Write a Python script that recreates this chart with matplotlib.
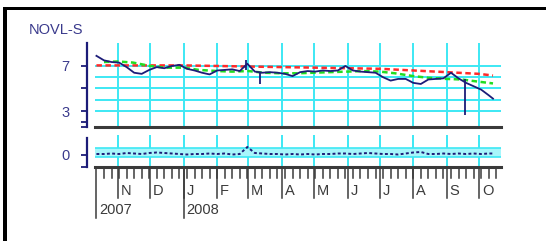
import matplotlib
matplotlib.use('Agg')
import matplotlib.pyplot as plt
import matplotlib.dates as mdates
from matplotlib.patches import Rectangle
import datetime as dt

# ---------------- data ----------------
ticker = "NOVL-S"

price_dates = ['2007-10-12', '2007-10-19', '2007-10-26', '2007-11-02', '2007-11-09', '2007-11-16',
               '2007-11-23', '2007-11-30', '2007-12-07', '2007-12-14', '2007-12-21', '2007-12-28',
               '2008-01-04', '2008-01-11', '2008-01-18', '2008-01-25', '2008-02-01', '2008-02-08',
               '2008-02-15', '2008-02-22', '2008-02-29', '2008-03-07', '2008-03-14', '2008-03-21',
               '2008-03-28', '2008-04-04', '2008-04-11', '2008-04-18', '2008-04-25', '2008-05-02',
               '2008-05-09', '2008-05-16', '2008-05-23', '2008-05-30', '2008-06-06', '2008-06-13',
               '2008-06-20', '2008-06-27', '2008-07-04', '2008-07-11', '2008-07-18', '2008-07-25',
               '2008-08-01', '2008-08-08', '2008-08-15', '2008-08-22', '2008-08-29', '2008-09-05',
               '2008-09-12', '2008-09-19', '2008-09-26', '2008-10-03', '2008-10-10', '2008-10-14']
price_close = [7.9, 7.5, 7.35, 7.3, 6.9, 6.4,
               6.3, 6.65, 6.9, 6.8, 7.0, 7.1,
               6.75, 6.6, 6.4, 6.25, 6.6, 6.65,
               6.7, 6.55, 7.2, 6.5, 6.4, 6.45,
               6.4, 6.3, 6.1, 6.45, 6.55, 6.5,
               6.6, 6.55, 6.6, 7.0, 6.6, 6.5,
               6.45, 6.4, 6.0, 5.7, 5.85, 5.85,
               5.5, 5.4, 5.8, 5.85, 5.9, 6.4,
               5.9, 5.5, 5.2, 4.9, 4.4, 4.1]

spike_dates = ['2008-02-28', '2008-03-12', '2008-09-18']
spike_high = [7.5, 6.5, 5.8]
spike_low = [6.6, 5.37, 2.65]

slow_ma_dates = ['2007-10-12', '2007-11-01', '2007-12-01', '2008-01-01', '2008-02-01', '2008-03-01',
                 '2008-04-01', '2008-05-01', '2008-06-01', '2008-07-01', '2008-08-01', '2008-09-01',
                 '2008-10-01', '2008-10-14']
slow_ma = [7.05, 7.05, 7.05, 7.05, 7.0, 6.95, 6.9, 6.85, 6.8, 6.75, 6.6, 6.45, 6.3, 6.15]

fast_ma_dates = ['2007-10-19', '2007-11-01', '2007-11-15', '2007-12-01', '2007-12-15', '2008-01-01',
                 '2008-01-15', '2008-02-01', '2008-02-15', '2008-03-01', '2008-03-15', '2008-04-01',
                 '2008-04-15', '2008-05-01', '2008-05-15', '2008-06-01', '2008-06-15', '2008-07-01',
                 '2008-07-15', '2008-08-01', '2008-08-15', '2008-09-01', '2008-09-15', '2008-10-01',
                 '2008-10-14']
fast_ma = [7.35, 7.4, 7.3, 7.0, 6.85, 6.85, 6.65, 6.55, 6.5, 6.55, 6.4, 6.35,
           6.35, 6.4, 6.45, 6.5, 6.55, 6.5, 6.35, 6.1, 5.95, 5.85, 5.8, 5.6, 5.45]

osc_values = [0.1, 0.1, 0.15, 0.1, 0.2, 0.15, 0.1, 0.2, 0.25, 0.2, 0.15, 0.1,
              0.05, 0.1, 0.1, 0.15, 0.1, 0.15, 0.05, 0.1, 0.8, 0.2, 0.15, 0.1,
              0.1, 0.05, 0.1, 0.05, 0.1, 0.05, 0.1, 0.1, 0.15, 0.15, 0.1, 0.15,
              0.2, 0.15, 0.1, 0.1, 0.05, 0.15, 0.25, 0.3, 0.1, 0.1, 0.15, 0.1,
              0.15, 0.1, 0.15, 0.1, 0.15, 0.15]

month_labels = ['N', 'D', 'J', 'F', 'M', 'A', 'M', 'J', 'J', 'A', 'S', 'O']
month_starts = ['2007-11-01', '2007-12-01', '2008-01-01', '2008-02-01', '2008-03-01', '2008-04-01',
                '2008-05-01', '2008-06-01', '2008-07-01', '2008-08-01', '2008-09-01', '2008-10-01']
year_labels = ['2007', '2008']
year_marks = ['2007-10-12', '2008-01-01']

y_ticks_main = [1.6, 2, 3, 5, 7]
y_labels_main = ['', '', '3', '', '7']
grid_levels = [3, 4, 5, 6, 7]

# ---------------- styling ----------------
plt.rcParams['font.family'] = ['Liberation Sans', 'DejaVu Sans']
W, H = 546, 241
fig = plt.figure(figsize=(W / 100, H / 100), dpi=100)
fig.patch.set_facecolor('white')

def fx(px):
    return px / W

def fy(py):
    return 1 - py / H

def d2n(s):
    return mdates.datestr2num(s)

CYAN = '#3de8f4'
NAVY = '#1c1c78'
LABEL = '#3a3a8c'
DARK = '#3a3a3a'

x0, x1 = 95, 501
ax1 = fig.add_axes([fx(x0), fy(127), fx(x1) - fx(x0), fy(43) - fy(127)])
ax2 = fig.add_axes([fx(x0), fy(167), fx(x1) - fx(x0), fy(135) - fy(167)])

xlo = mdates.date2num(dt.datetime(2007, 10, 10, 16))
xhi = mdates.date2num(dt.datetime(2008, 10, 21, 10))

for ax in (ax1, ax2):
    ax.set_xlim(xlo, xhi)
    ax.set_facecolor('white')
    for s in ('top', 'right'):
        ax.spines[s].set_visible(False)
    ax.spines['bottom'].set_color(DARK)
    ax.spines['bottom'].set_linewidth(2.2)
    ax.spines['left'].set_color(NAVY)
    ax.spines['left'].set_linewidth(1.6)
    ax.spines['left'].set_position(('outward', 5.8))
    for m in month_starts:
        ax.axvline(d2n(m), color=CYAN, lw=1.4, zorder=0)
    ax.tick_params(axis='x', length=0, labelbottom=False)
    ax.tick_params(axis='y', direction='out', length=4.5, width=1.3, color=NAVY,
                   labelcolor=LABEL, labelsize=10.5, pad=8)

# main panel
ax1.set_ylim(1.58, 9.04)
for g in grid_levels:
    ax1.axhline(g, color=CYAN, lw=1.4, zorder=0)
ax1.set_yticks(y_ticks_main)
ax1.set_yticklabels(y_labels_main)

ax1.plot([d2n(d) for d in slow_ma_dates], slow_ma, color='#ff2a2a', lw=1.8,
         linestyle=(0, (2.2, 1.4)), zorder=2)
ax1.plot([d2n(d) for d in fast_ma_dates], fast_ma, color='#22dd22', lw=1.8,
         linestyle=(0, (2.2, 1.4)), zorder=2)
ax1.plot([d2n(d) for d in price_dates], price_close, color=NAVY, lw=1.3, zorder=3)
ax1.vlines([d2n(d) for d in spike_dates], spike_low, spike_high, color=NAVY, lw=1.3, zorder=3)

fig.text(fx(56), fy(30), ticker, color=LABEL, fontsize=10.5, ha='center', va='center')

# lower panel
ax2.set_ylim(-1.2, 2.0)
ax2.spines['left'].set_bounds(-1.2, 1.7)
ax2.axhspan(-0.2, 0.7, color='#a8f6fb', lw=0, zorder=0)
ax2.axhline(-0.2, color=CYAN, lw=1.2, zorder=0)
ax2.axhline(0.7, color=CYAN, lw=1.2, zorder=0)
ax2.set_yticks([-1.2, 0])
ax2.set_yticklabels(['', '0'])
ax2.plot([d2n(d) for d in price_dates], osc_values, color=NAVY, lw=1.4,
         linestyle=(0, (1.5, 1.2)), zorder=3)

# time axis ticks
tr = ax2.get_xaxis_transform()
ph = 32.0
wk = mdates.date2num(dt.datetime(2007, 10, 19))
while wk < xhi - 2:
    ax2.plot([wk, wk], [0, -11 / ph], color=DARK, lw=1.1, transform=tr, clip_on=False)
    wk += 7
for m, lab in zip(month_starts, month_labels):
    xm = d2n(m)
    ax2.plot([xm, xm], [0, -31 / ph], color=DARK, lw=1.1, transform=tr, clip_on=False)
    ax2.annotate(lab, (xm, -24 / ph), xycoords=tr, xytext=(2.0, 0), textcoords='offset points',
                 ha='left', va='center', fontsize=10.5, color=DARK)
for y, lab in zip(year_marks, year_labels):
    xm = d2n(y)
    ax2.plot([xm, xm], [0, -51 / ph], color=DARK, lw=1.1, transform=tr, clip_on=False)
    ax2.annotate(lab, (xm, -43 / ph), xycoords=tr, xytext=(2.0, 0), textcoords='offset points',
                 ha='left', va='center', fontsize=10.5, color=DARK)

# outer frame (top and left edges)
fig.add_artist(Rectangle((fx(3), fy(9.5)), 1 - fx(3), 3 / H, transform=fig.transFigure,
                         color='black', lw=0))
fig.add_artist(Rectangle((fx(3), 0), 4 / W, fy(7), transform=fig.transFigure,
                         color='black', lw=0))

fig.savefig('out.png', dpi=100, facecolor='white')
